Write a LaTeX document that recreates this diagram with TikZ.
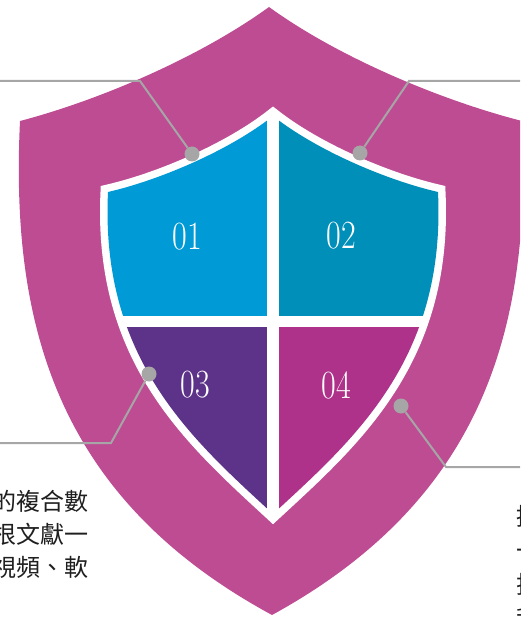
\documentclass[tikz,border=0pt]{standalone}
\usepackage{fontspec}
\usepackage{graphicx}
\newfontfamily\cjk{Noto Sans CJK TC}
\definecolor{shield}{RGB}{190,76,147}
\definecolor{qone}{RGB}{0,155,214}
\definecolor{qtwo}{RGB}{0,143,185}
\definecolor{qthree}{RGB}{93,50,137}
\definecolor{qfour}{RGB}{174,50,138}
\definecolor{pin}{RGB}{166,166,166}
\begin{document}
\begin{tikzpicture}[x=1pt,y=-1pt,
    num/.style={text=white,font=\fontsize{40}{40}\selectfont\rmfamily},
    note/.style={text=black!88,font=\fontsize{24}{24}\selectfont\cjk,inner sep=0pt},
    dot/.style={circle,fill=pin,inner sep=0pt,minimum size=15pt},
    pinline/.style={draw=pin,line width=2pt},
    inner shield/.style={insert path={(108,192) .. controls (160,180) and (230,150) .. (273,116)
      .. controls (316,150) and (386,180) .. (438,192)
      .. controls (446,360) and (353,440) .. (273,514)
      .. controls (193,440) and (100,360) .. (108,192) -- cycle}}]
  \useasboundingbox (0,0) rectangle (520,617);
  \clip (0,0) rectangle (520,617);
  \fill[shield] (269,7) .. controls (200,57) and (100,100) .. (20,121)
    .. controls (10,330) and (60,500) .. (272,615)
    .. controls (482,500) and (532,330) .. (522,121)
    .. controls (440,100) and (338,57) .. (269,7) -- cycle;
  \filldraw[white,line width=15pt,line join=miter,inner shield];
  \begin{scope}
    \clip[inner shield];
    \fill[qone] (0,0) rectangle (267,316);
    \fill[qtwo] (279,0) rectangle (530,316);
    \fill[qthree] (0,327) rectangle (267,620);
    \fill[qfour] (279,327) rectangle (530,620);
  \end{scope}

  \node[num] (n1) at (187,237) {\scalebox{0.8}[1]{01}};
  \node[num] (n2) at (341,236) {\scalebox{0.8}[1]{02}};
  \node[num] (n3) at (195,385) {\scalebox{0.8}[1]{03}};
  \node[num] (n4) at (336,385) {\scalebox{0.8}[1]{04}};

  \node[dot] (d1) at (192,154) {};
  \node[dot] (d2) at (360,153) {};
  \node[dot] (d3) at (149,374) {};
  \node[dot] (d4) at (401,406) {};
  \coordinate (k1) at (140,81);
  \coordinate (k2) at (409,81);
  \coordinate (k3) at (111,443);
  \coordinate (k4) at (446,467);
  \coordinate (e1) at (-5,81);
  \coordinate (e2) at (525,81);
  \coordinate (e3) at (-5,443);
  \coordinate (e4) at (525,467);
  \draw[pinline] (e1) -- (k1) -- (d1);
  \draw[pinline] (e2) -- (k2) -- (d2);
  \draw[pinline] (e3) -- (k3) -- (d3);
  \draw[pinline] (e4) -- (k4) -- (d4);

  \node[note,anchor=base east] (l1) at (89,510) {的複合數};
  \node[note,anchor=base east] (l2) at (89,543) {根文獻一};
  \node[note,anchor=base east] (l3) at (89,576) {視頻、軟};
  \node[note,anchor=base west] (r1) at (516,525) {提};
  \node[note,anchor=base west] (r2) at (516,559) {一};
  \node[note,anchor=base west] (r3) at (516,593) {技};
  \node[note,anchor=base west] (r4) at (516,627) {利};
\end{tikzpicture}
\end{document}
